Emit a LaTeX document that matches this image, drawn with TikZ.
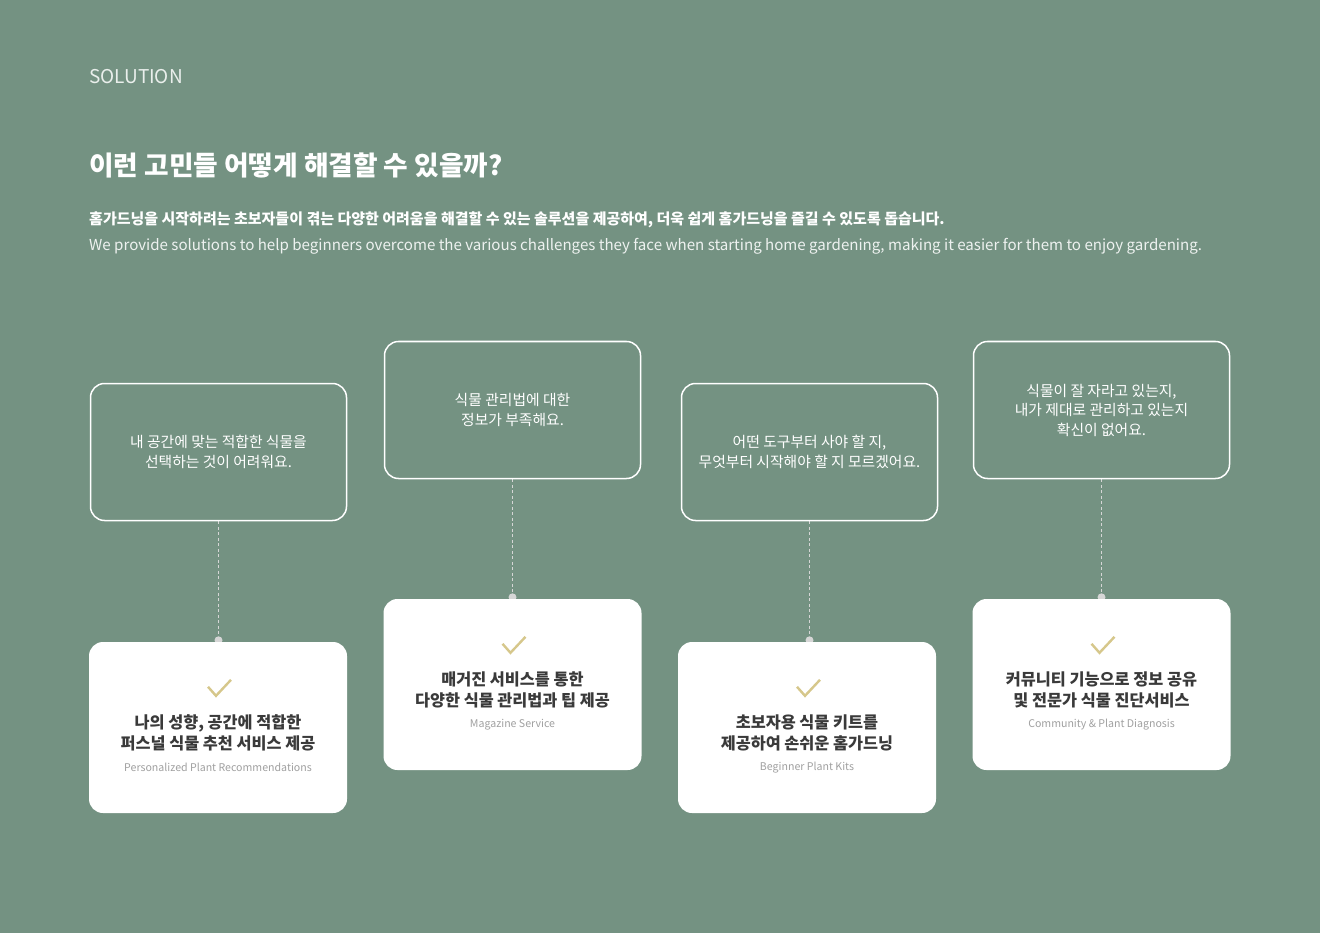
\documentclass[tikz,border=0pt]{standalone}
\usepackage{fontspec}
\setmainfont{Noto Sans CJK KR}
\usetikzlibrary{backgrounds}
\tikzset{>=stealth}
\definecolor{leafgreen}{RGB}{116,146,130}
\definecolor{checkgold}{RGB}{214,199,139}
\definecolor{inkgray}{RGB}{58,58,58}
\definecolor{mutedgray}{RGB}{160,160,160}
\definecolor{pingray}{RGB}{214,214,214}
\tikzset{
  worry/.style={draw=white, line width=1.5pt, rounded corners=14pt, minimum width=256pt, minimum height=137pt, align=center, text=white, font=\fontsize{14.8}{19.5}\selectfont},
  answer/.style={fill=white, rounded corners=14pt, minimum width=258pt, minimum height=171pt},
  anstitle/.style={align=center, text=inkgray, font=\fontsize{16.3}{21}\selectfont\bfseries},
  anssub/.style={text=mutedgray, font=\fontsize{10.6}{13}\selectfont},
  pinline/.style={pingray, line width=1pt, dash pattern=on 3pt off 2.5pt},
  tick/.style={checkgold, line width=2.4pt},
  heading/.style={anchor=west, inner sep=0pt}
}

\begin{document}
\begin{tikzpicture}[x=1pt,y=1pt]
\useasboundingbox (0,0) rectangle (1320,-933);
\begin{scope}[on background layer]
\fill[leafgreen] (0,0) rectangle (1320,-933);
\end{scope}
% header
\node[heading, text=white!85!leafgreen, font=\fontsize{19}{22}\selectfont] (label) at (89,-77) {SOLUTION};
\node[heading, text=white, font=\fontsize{26.7}{32}\selectfont\bfseries] (headline) at (89,-165) {이런 고민들 어떻게 해결할 수 있을까?};
\node[heading, text=white, font=\fontsize{15}{18}\selectfont\bfseries] (introko) at (89,-220) {홈가드닝을 시작하려는 초보자들이 겪는 다양한 어려움을 해결할 수 있는 솔루션을 제공하여, 더욱 쉽게 홈가드닝을 즐길 수 있도록 돕습니다.};
\node[heading, text=white!88!leafgreen, font=\fontsize{15.1}{18}\selectfont] (introen) at (89,-246) {We provide solutions to help beginners overcome the various challenges they face when starting home gardening, making it easier for them to enjoy gardening.};
% problems
\node[worry] (w1) at (218.5,-452) {내 공간에 맞는 적합한 식물을\\선택하는 것이 어려워요.};
\node[worry] (w2) at (512.5,-410) {식물 관리법에 대한\\정보가 부족해요.};
\node[worry] (w3) at (809.5,-452) {어떤 도구부터 사야 할 지,\\무엇부터 시작해야 할 지 모르겠어요.};
\node[worry] (w4) at (1101.5,-410) {식물이 잘 자라고 있는지,\\내가 제대로 관리하고 있는지\\확신이 없어요.};
% solutions
\node[answer] (a1) at (218,-727.5) {};
\node[answer] (a2) at (512.5,-684.5) {};
\node[answer] (a3) at (807,-727.5) {};
\node[answer] (a4) at (1101.5,-684.5) {};
\foreach \b/\t/\s in {
  a1/{나의 성향, 공간에 적합한\\퍼스널 식물 추천 서비스 제공}/{Personalized Plant Recommendations},
  a2/{매거진 서비스를 통한\\다양한 식물 관리법과 팁 제공}/{Magazine Service},
  a3/{초보자용 식물 키트를\\제공하여 손쉬운 홈가드닝}/{Beginner Plant Kits},
  a4/{커뮤니티 기능으로 정보 공유\\및 전문가 식물 진단서비스}/{Community \& Plant Diagnosis}} {
  \draw[tick] ([xshift=-10pt,yshift=-45pt]\b.north) -- ([xshift=-2pt,yshift=-54pt]\b.north) -- ([xshift=13pt,yshift=-38pt]\b.north);
  \node[anstitle] (\b-title) at ([yshift=-91.5pt]\b.north) {\t};
  \node[anssub] (\b-sub) at ([yshift=-126pt]\b.north) {\s};
}
% connectors
\begin{scope}[on background layer]
\foreach \n in {1,...,4} {
  \draw[pinline] (w\n.south) -- (w\n.south |- a\n.north);
  \fill[pingray] ([yshift=1.5pt]w\n.south |- a\n.north) circle (4pt);
}
\end{scope}
\end{tikzpicture}
\end{document}
